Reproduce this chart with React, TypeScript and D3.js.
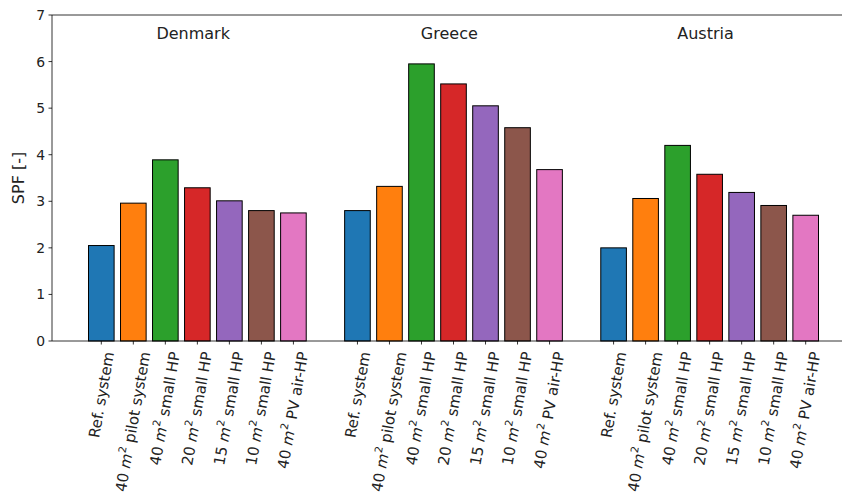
import React from "react";
import * as d3 from "d3";

const countries = ["Denmark", "Greece", "Austria"];
const systems = [
  "Ref. system",
  "40 m² pilot system",
  "40 m² small HP",
  "20 m² small HP",
  "15 m² small HP",
  "10 m² small HP",
  "40 m² PV air-HP",
];
const denmarkValues = [2.05, 2.96, 3.89, 3.29, 3.01, 2.8, 2.75];
const greeceValues = [2.8, 3.32, 5.95, 5.52, 5.05, 4.58, 3.68];
const austriaValues = [2.0, 3.06, 4.2, 3.58, 3.19, 2.91, 2.7];
const seriesValues = [denmarkValues, greeceValues, austriaValues];
const colors = ["#1f77b4", "#ff7f0e", "#2ca02c", "#d62728", "#9467bd", "#8c564b", "#e377c2"];
const yTicks = [0, 1, 2, 3, 4, 5, 6, 7];

const W = 842;
const H = 499;
const FONT = "DejaVu Sans, sans-serif";
const TICK_FS = 13.9;
const XLAB_FS = 15;

let ctx: CanvasRenderingContext2D | null = null;
function measure(s: string): number {
  if (!ctx) {
    const c = document.createElement("canvas");
    ctx = c.getContext("2d");
  }
  if (!ctx) return s.length * 8;
  ctx.font = `${XLAB_FS}px DejaVu Sans`;
  return ctx.measureText(s).width;
}

function Label({ text, x, y }: { text: string; x: number; y: number }) {
  const L = measure(text.replace("²", "")) + 4;
  const cos = Math.cos((80 * Math.PI) / 180);
  const tx = x + (cos * L) / 2;
  const idx = text.indexOf("m²");
  let content: React.ReactNode;
  if (idx >= 0) {
    const pre = text.slice(0, idx);
    const post = text.slice(idx + 2);
    content = (
      <>
        {pre}
        <tspan fontStyle="italic">m</tspan>
        <tspan dy={-6} fontSize={XLAB_FS * 0.7}>2</tspan>
        <tspan dy={6}>{post}</tspan>
      </>
    );
  } else content = text;
  return (
    <text
      transform={`translate(${tx},${y}) rotate(-80)`}
      textAnchor="end"
      dominantBaseline="central"
      fontSize={XLAB_FS}
      fill="#222"
      fontFamily={FONT}
    >
      {content}
    </text>
  );
}

export default function App() {
  const left = 52;
  const top = 15;
  const bottom = 341;
  const n = systems.length;
  const positions: number[][] = countries.map((_, ci) => systems.map((_, si) => ci * (n + 1) + si));
  const maxPos = (countries.length - 1) * (n + 1) + n - 1;
  const pad = (maxPos + 0.8) * 0.05;
  const x = d3.scaleLinear().domain([-0.4 - pad, maxPos + 0.4 + pad]).range([left, 855]);
  const y = d3.scaleLinear().domain([0, 7]).range([bottom, top]);
  const bw = x(0.8) - x(0);

  return (
    <div style={{ position: "fixed", left: 0, top: 0 }}>
      <svg width={W} height={H} style={{ display: "block", background: "#fff" }}>
        {seriesValues.map((vals, ci) =>
          vals.map((v, si) => (
            <rect
              key={`${ci}-${si}`}
              x={x(positions[ci][si]) - bw / 2}
              y={y(v)}
              width={bw}
              height={y(0) - y(v)}
              fill={colors[si]}
              stroke="#000"
              strokeWidth={1}
            />
          ))
        )}
        {countries.map((c, ci) => (
          <text
            key={c}
            x={x(positions[ci][3] - 0.13)}
            y={39}
            textAnchor="middle"
            fontSize={16}
            fontFamily={FONT}
            fill="#222"
          >
            {c}
          </text>
        ))}
        <line x1={left} x2={W + 20} y1={top} y2={top} stroke="#000" strokeWidth={0.8} />
        <line x1={left} x2={W + 20} y1={bottom} y2={bottom} stroke="#000" strokeWidth={0.8} />
        <line x1={left} x2={left} y1={top} y2={bottom} stroke="#000" strokeWidth={0.8} />
        {yTicks.map((t) => (
          <g key={t}>
            <line x1={left - 3.5} x2={left} y1={y(t)} y2={y(t)} stroke="#000" strokeWidth={0.8} />
            <text
              x={left - 7}
              y={y(t)}
              textAnchor="end"
              dominantBaseline="central"
              fontSize={TICK_FS}
              fontFamily={FONT}
              fill="#222"
            >
              {t}
            </text>
          </g>
        ))}
        <text
          transform={`translate(18,${(top + bottom) / 2}) rotate(-90)`}
          textAnchor="middle"
          dominantBaseline="central"
          fontSize={16}
          fontFamily={FONT}
          fill="#222"
        >
          SPF [-]
        </text>
        {positions.map((row, ci) =>
          row.map((p, si) => (
            <g key={`t-${ci}-${si}`}>
              <line x1={x(p)} x2={x(p)} y1={bottom} y2={bottom + 3.5} stroke="#000" strokeWidth={0.8} />
              <Label text={systems[si]} x={x(p)} y={bottom + 11} />
            </g>
          ))
        )}
      </svg>
    </div>
  );
}
